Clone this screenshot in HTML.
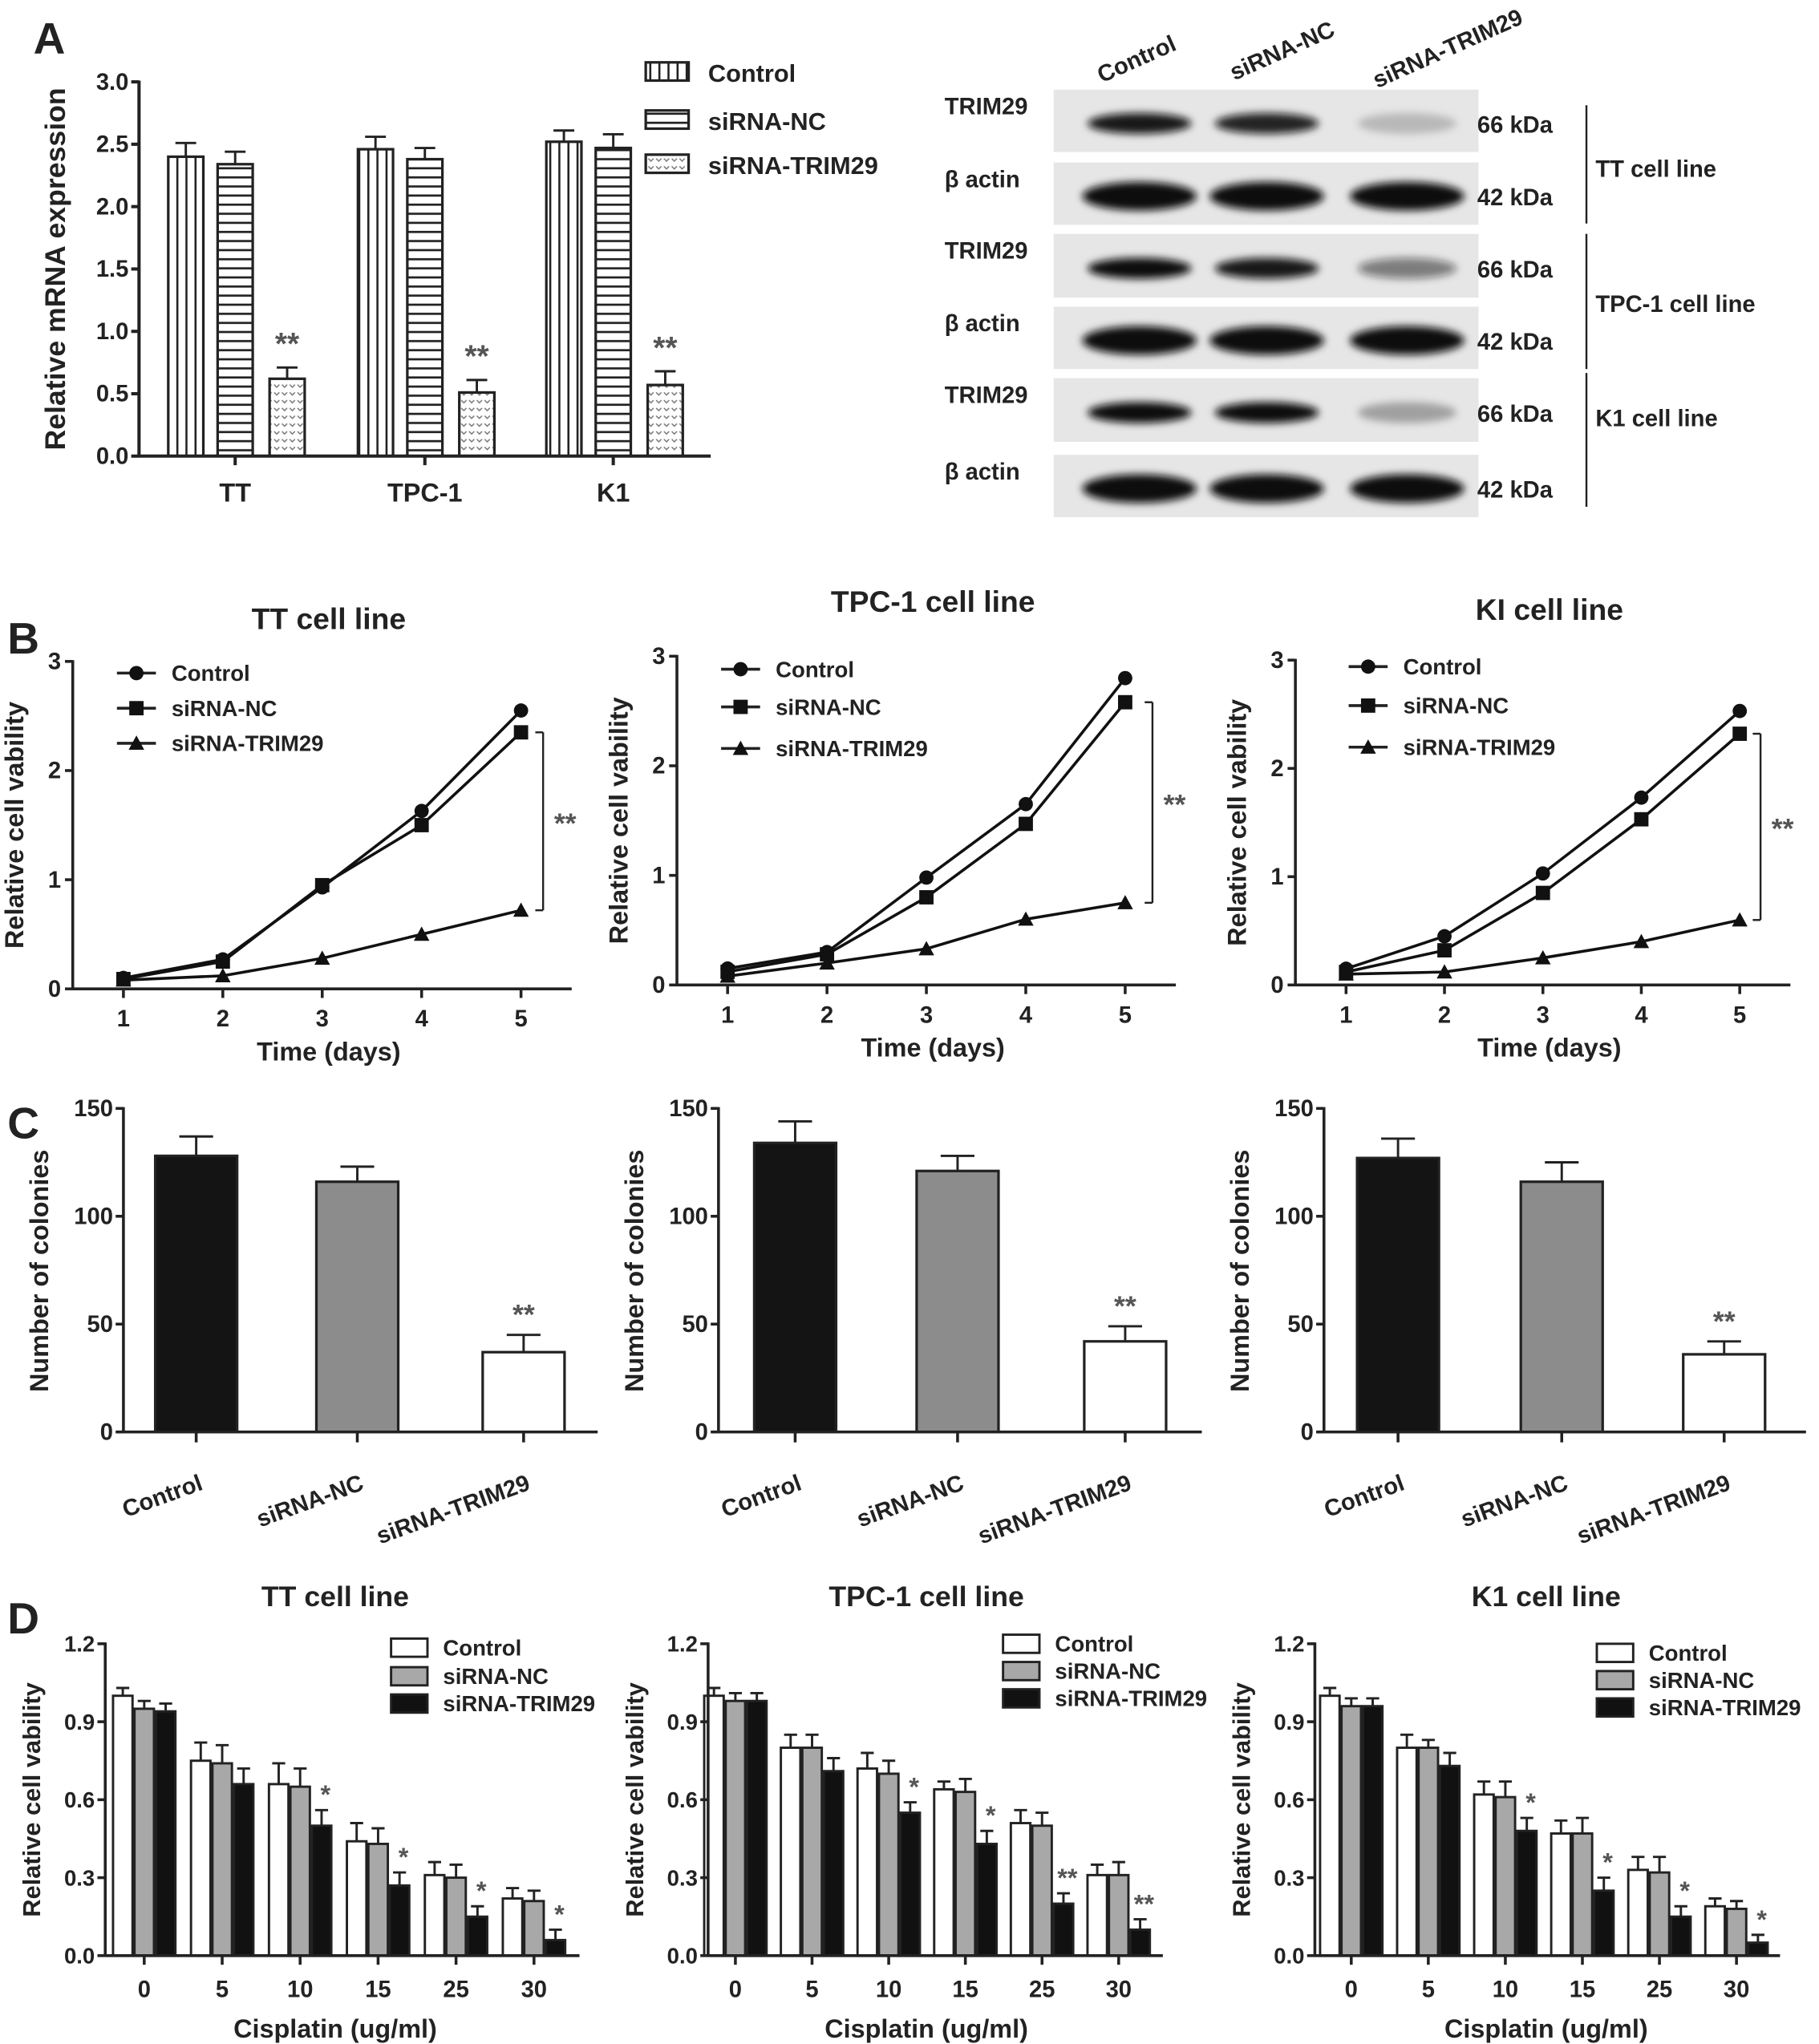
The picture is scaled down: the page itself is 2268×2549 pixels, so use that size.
<!DOCTYPE html>
<html><head><meta charset="utf-8">
<style>
html,body{margin:0;padding:0;background:#fff;}
svg{display:block;font-family:"Liberation Sans",Arial,sans-serif;font-weight:bold;}
</style></head>
<body>
<svg id="fig" width="2268" height="2549" viewBox="0 0 1400 1573" preserveAspectRatio="none" xmlns="http://www.w3.org/2000/svg">
<defs>
<pattern id="pv" width="7" height="10" patternUnits="userSpaceOnUse"><rect width="7" height="10" fill="#fff"/><line x1="3.5" y1="0" x2="3.5" y2="10" stroke="#222" stroke-width="1.6"/></pattern>
<pattern id="ph" width="10" height="7" patternUnits="userSpaceOnUse"><rect width="10" height="7" fill="#fff"/><line x1="0" y1="3.5" x2="10" y2="3.5" stroke="#222" stroke-width="1.6"/></pattern>
<pattern id="pd" width="6" height="6" patternUnits="userSpaceOnUse"><rect width="6" height="6" fill="#fff"/><path d="M1 2 L3 4 L5 2" fill="none" stroke="#777" stroke-width="0.9"/></pattern>
<filter id="blur" x="-20%" y="-50%" width="140%" height="200%"><feGaussianBlur stdDeviation="3"/></filter>
</defs>
<g id="root"></g>
</svg>
<script>
// ---------- Panel A data ----------
const aCategories = ["TT","TPC-1","K1"];
const aSeriesNames = ["Control","siRNA-NC","siRNA-TRIM29"];
const aControl = [2.40,2.46,2.52];
const aNC = [2.34,2.38,2.47];
const aTrim = [0.62,0.51,0.57];
const aErrControl = [0.11,0.10,0.09];
const aErrNC = [0.10,0.09,0.11];
const aErrTrim = [0.09,0.10,0.11];
const aTicks = [0,0.5,1.0,1.5,2.0,2.5,3.0];
// ---------- Panel B data ----------
const bDays = [1,2,3,4,5];
const bTitles = ["TT cell line","TPC-1 cell line","KI cell line"];
const bControl = [[0.10,0.27,0.93,1.63,2.55],[0.15,0.30,0.98,1.65,2.80],[0.15,0.45,1.03,1.73,2.53]];
const bNC = [[0.09,0.25,0.95,1.50,2.35],[0.12,0.28,0.80,1.47,2.58],[0.12,0.32,0.85,1.53,2.32]];
const bTrim = [[0.08,0.12,0.28,0.50,0.72],[0.08,0.20,0.33,0.60,0.75],[0.10,0.12,0.25,0.40,0.60]];
const bTicks = [0,1,2,3];
// ---------- Panel C data ----------
const cCategories = ["Control","siRNA-NC","siRNA-TRIM29"];
const cValues = [[128,116,37],[134,121,42],[127,116,36]];
const cErrors = [[9,7,8],[10,7,7],[9,9,6]];
const cTicks = [0,50,100,150];
// ---------- Panel D data ----------
const dDoses = ["0","5","10","15","25","30"];
const dTitles = ["TT cell line","TPC-1 cell line","K1 cell line"];
const dControl = [[1.00,0.75,0.66,0.44,0.31,0.22],[1.00,0.80,0.72,0.64,0.51,0.31],[1.00,0.80,0.62,0.47,0.33,0.19]];
const dNC = [[0.95,0.74,0.65,0.43,0.30,0.21],[0.98,0.80,0.70,0.63,0.50,0.31],[0.96,0.80,0.61,0.47,0.32,0.18]];
const dTrim = [[0.94,0.66,0.50,0.27,0.15,0.06],[0.98,0.71,0.55,0.43,0.20,0.10],[0.96,0.73,0.48,0.25,0.15,0.05]];
const dErrControl = [[0.03,0.07,0.08,0.07,0.05,0.04],[0.03,0.05,0.06,0.03,0.05,0.04],[0.03,0.05,0.05,0.05,0.05,0.03]];
const dErrNC = [[0.03,0.07,0.07,0.06,0.05,0.04],[0.03,0.05,0.05,0.05,0.05,0.05],[0.03,0.03,0.06,0.06,0.06,0.03]];
const dErrTrim = [[0.03,0.06,0.06,0.05,0.04,0.04],[0.03,0.05,0.04,0.05,0.04,0.04],[0.03,0.05,0.05,0.05,0.04,0.03]];
const dStars = [["","","*","*","*","*"],["","","*","*","**","**"],["","","*","*","*","*"]];
const dTicks = [0,0.3,0.6,0.9,1.2];

const NS="http://www.w3.org/2000/svg";
const root=document.getElementById('root');
function el(tag,attrs,parent,txt){const e=document.createElementNS(NS,tag);for(const k in attrs)e.setAttribute(k,attrs[k]);if(txt!==undefined)e.textContent=txt;(parent||root).appendChild(e);return e;}
function grp(name,parent){const g=el('g',{},parent);


return g;}
function txt(g,x,y,s,size,anchor,name,extra){const t=el('text',Object.assign({x:x,y:y,'font-size':size,'text-anchor':anchor||'middle',fill:'#222'},extra||{}),g,s);


return t;}
function line(g,x1,y1,x2,y2,w){return el('line',{x1:x1,y1:y1,x2:x2,y2:y2,stroke:'#222','stroke-width':w||2},g);}
function yScale(y0,y1,vmax){return v=>y0-(y0-y1)*v/vmax;}
function errBar(g,cx,yTop,yErr,cap){line(g,cx,yTop,cx,yErr,1.8);line(g,cx-cap,yErr,cx+cap,yErr,1.8);}

// Panel letters
[["A",38,32],["B",18,494],["C",18,867],["D",18,1248]].forEach(p=>{const t=txt(root,p[1],p[2],p[0],34,'middle','panel-label-'+p[0].toLowerCase());t.setAttribute('dominant-baseline','middle');});

// ---------- Panel A ----------
(function(){
 const g=grp('panel-a-bar-chart');
 const ax=107,y0=351,y1=63,xEnd=547;
 const Y=yScale(y0,y1,3.0);
 const centers=[181,327,472];
 const offs=[-38,0,40];const bw=27;
 const fills=['url(#pv)','url(#ph)','url(#pd)'];
 const vals=[aControl,aNC,aTrim],errs=[aErrControl,aErrNC,aErrTrim];
 vals.forEach((arr,s)=>arr.forEach((v,i)=>{
   const cx=centers[i]+offs[s];
   errBar(g,cx,Y(v),Y(v+errs[s][i]),8);
   const r=el('rect',{x:cx-bw/2,y:Y(v),width:bw,height:y0-Y(v),fill:fills[s],stroke:'#222','stroke-width':2},g);
   
   
   if(s===2) txt(g,cx,Y(v+errs[s][i])-10,'**',24,'middle','significance-marker',{fill:'#555'});
 }));
 line(g,ax,y1-1,ax,y0+1,2.5);line(g,ax,y0,xEnd,y0,2.5);
 aTicks.forEach(t=>{line(g,ax-6,Y(t),ax,Y(t),2.5);txt(g,ax-8,Y(t)+6,t.toFixed(1),18,'end','y-tick-label');});
 centers.forEach((c,i)=>{line(g,c,y0,c,y0+7,2.5);txt(g,c,y0+35,aCategories[i],20,'middle','x-tick-label');});
 txt(g,0,0,'Relative mRNA expression',22,'middle','y-axis-title',{transform:'translate(50,207) rotate(-90)'});
 const ly=[56,93,127];
 aSeriesNames.forEach((n,i)=>{const r=el('rect',{x:497,y:ly[i]-8,width:33,height:14,fill:fills[i],stroke:'#222','stroke-width':2},g);
  
  txt(g,545,ly[i]+7,n,19,'start','legend-entry');});
})();

// ---------- Western blot ----------
(function(){
 const g=grp('western-blot');
 const strips=[[69,117],[125,173],[180,229],[236,284],[291,340],[350,398]];
 const labels=['TRIM29','β actin','TRIM29','β actin','TRIM29','β actin'];
 const kda=['66 kDa','42 kDa','66 kDa','42 kDa','66 kDa','42 kDa'];
 const intens=[[0.95,0.9,0.2],[1,1,1],[1,0.95,0.5],[1,1,1],[1,1,0.3],[1,1,1]];
 const lanes=[877,975,1083];
 strips.forEach((s,i)=>{
  el('rect',{x:811,y:s[0],width:327,height:s[1]-s[0],fill:'#e6e6e6'},g);
  const cy=(s[0]+s[1])/2+2;
  lanes.forEach((lx,j)=>{
   const w=i%2?44:(j===2?38:40);const h=i%2?11:8;
   const b=el('ellipse',{cx:lx,cy:cy,rx:w,ry:h,fill:'#111','fill-opacity':intens[i][j],filter:'url(#blur)'},g);
   
  });
  txt(g,727,s[0]+19,labels[i],18,'start','blot-row-label');
  txt(g,1137,cy+7,kda[i],18,'start','molecular-weight-label');
 });
 [[81,172,'TT cell line',136],[180,284,'TPC-1 cell line',240],[287,390,'K1 cell line',328]].forEach(v=>{
  line(g,1221,v[0],1221,v[1],1.5);txt(g,1228,v[3],v[2],18,'start','cell-line-label');});
 [['Control',848,64],['siRNA-NC',950,62],['siRNA-TRIM29',1060,68]].forEach(h=>{
  txt(g,h[1],h[2],h[0],18,'start','lane-header',{transform:'rotate(-24 '+h[1]+' '+h[2]+')'});});
})();

// ---------- Panel B ----------
const bCfg=[{ax:56,x1:95,x5:401,xEnd:440,y0:761,y3:509,ty:484,leg:90,ly:[518,545,572],brx:418},
            {ax:521,x1:560,x5:866,xEnd:905,y0:758,y3:505,ty:471,leg:555,ly:[515,544,576],brx:887},
            {ax:997,x1:1036,x5:1339,xEnd:1378,y0:758,y3:508,ty:477,leg:1038,ly:[513,543,575],brx:1355}];
bCfg.forEach((c,k)=>{
 const g=grp('panel-b-line-chart-'+(k+1));
 const Y=yScale(c.y0,c.y3,3);
 const X=d=>c.x1+(c.x5-c.x1)*(d-1)/4;
 line(g,c.ax,c.y3-1,c.ax,c.y0+1,2.2);line(g,c.ax,c.y0,c.xEnd,c.y0,2.2);
 bTicks.forEach(t=>{line(g,c.ax-6,Y(t),c.ax,Y(t),2.2);txt(g,c.ax-9,Y(t)+6,String(t),18,'end','y-tick-label');});
 bDays.forEach(d=>{line(g,X(d),c.y0,X(d),c.y0+7,2.2);txt(g,X(d),c.y0+29,String(d),18,'middle','x-tick-label');});
 txt(g,(c.ax+c.xEnd)/2+5,c.ty,bTitles[k],23,'middle','chart-title');
 txt(g,(c.ax+c.xEnd)/2+5,c.y0+55,'Time (days)',20,'middle','x-axis-title');
 txt(g,0,0,'Relative cell vability',20,'middle','y-axis-title',{transform:'translate('+(c.ax-38)+','+((c.y0+c.y3)/2)+') rotate(-90)'});
 const series=[bControl[k],bNC[k],bTrim[k]];
 const mk=['circle','square','triangle'];
 function marker(type,x,y,gg){
  let m;
  if(type==='circle')m=el('circle',{cx:x,cy:y,r:5.5,fill:'#111'},gg);
  else if(type==='square')m=el('rect',{x:x-5.5,y:y-5.5,width:11,height:11,fill:'#111'},gg);
  else m=el('polygon',{points:(x)+','+(y-6)+' '+(x+6)+','+(y+5)+' '+(x-6)+','+(y+5),fill:'#111'},gg);
  
 }
 series.forEach((arr,s)=>{
  const p=el('polyline',{points:arr.map((v,i)=>X(bDays[i])+','+Y(v)).join(' '),fill:'none',stroke:'#111','stroke-width':2.2},g);
  
  
  arr.forEach((v,i)=>marker(mk[s],X(bDays[i]),Y(v),g));
 });
 const top=Y(bNC[k][4]),bot=Y(bTrim[k][4]);
 line(g,c.brx-6,top,c.brx,top,1.5);line(g,c.brx,top,c.brx,bot,1.5);line(g,c.brx-6,bot,c.brx,bot,1.5);
 txt(g,c.brx+17,(top+bot)/2+9,'**',22,'middle','significance-marker',{fill:'#555'});
 ['Control','siRNA-NC','siRNA-TRIM29'].forEach((n,i)=>{line(g,c.leg,c.ly[i],c.leg+30,c.ly[i],2.2);marker(mk[i],c.leg+15,c.ly[i],g);
  txt(g,c.leg+42,c.ly[i]+6,n,17,'start','legend-entry');});
});

// ---------- Panel C ----------
const cCfg=[{ax:95,xEnd:460,bars:[151,275,403]},{ax:553,xEnd:925,bars:[612,737,866]},{ax:1019,xEnd:1390,bars:[1076,1202,1327]}];
const cFills=['#141414','#8c8c8c','#ffffff'];
cCfg.forEach((c,k)=>{
 const g=grp('panel-c-bar-chart-'+(k+1));
 const y0=1102,y1=853;const Y=yScale(y0,y1,150);const bw=63;
 cValues[k].forEach((v,i)=>{
  const cx=c.bars[i];
  errBar(g,cx,Y(v),Y(v+cErrors[k][i]),13);
  const r=el('rect',{x:cx-bw/2,y:Y(v),width:bw,height:y0-Y(v),fill:cFills[i],stroke:'#222','stroke-width':2},g);
  
  
  if(i===2)txt(g,cx,Y(v+cErrors[k][i])-8,'**',22,'middle','significance-marker',{fill:'#555'});
  line(g,cx,y0,cx,y0+8,2.2);
  const tx=cx+6,ty=y0+44;
  txt(g,tx,ty,cCategories[i],18,'end','x-tick-label',{transform:'rotate(-20 '+tx+' '+ty+')'});
 });
 line(g,c.ax,y1-1,c.ax,y0+1,2.2);line(g,c.ax,y0,c.xEnd,y0,2.2);
 cTicks.forEach(t=>{line(g,c.ax-6,Y(t),c.ax,Y(t),2.2);txt(g,c.ax-8,Y(t)+6,String(t),18,'end','y-tick-label');});
 txt(g,0,0,'Number of colonies',20,'middle','y-axis-title',{transform:'translate('+(c.ax-58)+',978) rotate(-90)'});
});

// ---------- Panel D ----------
const dCfg=[{ax:81,g0:111,sp:60,xEnd:446,ty:1228,legx:301,ly:[1268,1290,1311],tx:258},
            {ax:545,g0:566,sp:59,xEnd:895,ty:1228,legx:772,ly:[1265,1286,1307],tx:713},
            {ax:1012,g0:1040,sp:59.3,xEnd:1370,ty:1228,legx:1229,ly:[1272,1293,1314],tx:1190}];
const dFills=['#ffffff','#a8a8a8','#111111'];
dCfg.forEach((c,k)=>{
 const g=grp('panel-d-bar-chart-'+(k+1));
 const y0=1505,y1=1265;const Y=yScale(y0,y1,1.2);const bw=15;
 const vals=[dControl[k],dNC[k],dTrim[k]],errs=[dErrControl[k],dErrNC[k],dErrTrim[k]];
 dDoses.forEach((d,i)=>{
  const gc=c.g0+c.sp*i;
  vals.forEach((arr,s)=>{
   const cx=gc+(s-1)*16.5;const v=arr[i];
   errBar(g,cx,Y(v),Y(v+errs[s][i]),5);
   const r=el('rect',{x:cx-bw/2,y:Y(v),width:bw,height:y0-Y(v),fill:dFills[s],stroke:'#222','stroke-width':1.8},g);
   
   
   if(s===2&&dStars[k][i])txt(g,cx+3,Y(v+errs[s][i])-5,dStars[k][i],20,'middle','significance-marker',{fill:'#555'});
  });
  line(g,gc,y0,gc,y0+7,2.2);txt(g,gc,y0+32,d,18,'middle','x-tick-label');
 });
 line(g,c.ax,y1-1,c.ax,y0+1,2.2);line(g,c.ax,y0,c.xEnd,y0,2.2);
 dTicks.forEach(t=>{line(g,c.ax-6,Y(t),c.ax,Y(t),2.2);txt(g,c.ax-8,Y(t)+6,t.toFixed(1),17,'end','y-tick-label');});
 txt(g,c.tx,c.ty+8,dTitles[k],22,'middle','chart-title');
 txt(g,c.tx,1568,'Cisplatin (ug/ml)',20,'middle','x-axis-title');
 txt(g,0,0,'Relative cell vability',19,'middle','y-axis-title',{transform:'translate('+(c.ax-50)+',1385) rotate(-90)'});
 ['Control','siRNA-NC','siRNA-TRIM29'].forEach((n,i)=>{
  const r=el('rect',{x:c.legx,y:c.ly[i]-7,width:28,height:14,fill:dFills[i],stroke:'#222','stroke-width':1.8},g);
  
  txt(g,c.legx+40,c.ly[i]+6,n,17,'start','legend-entry');});
});
</script>
</body></html>
